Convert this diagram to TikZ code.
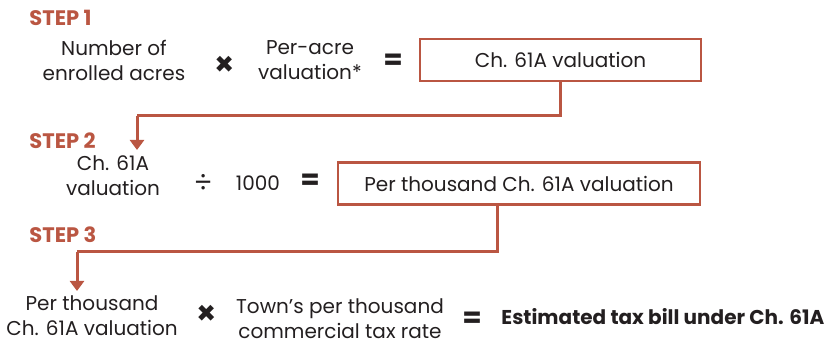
\documentclass[tikz,border=0pt]{standalone}
\usepackage{fontspec}
\setmainfont{Poppins}
\usetikzlibrary{positioning,arrows.meta}
\definecolor{stepred}{RGB}{186,86,66}
\definecolor{inkgray}{RGB}{35,31,32}

\begin{document}
\begin{tikzpicture}[x=0.5pt, y=-0.5pt, -{Triangle[width=7pt,length=5pt]}, line width=1.5pt, stepred, text=inkgray,
	steplabel/.style={anchor=west, inner sep=0, text=stepred, font=\fontsize{10.5}{12}\selectfont\bfseries},
	term/.style={align=center, inner sep=0, font=\fontsize{10}{12.5}\selectfont},
	op/.style={inner sep=0, font=\fontsize{14}{14}\selectfont\bfseries},
	result/.style={draw, line width=1.3pt, fill=white, inner sep=0, minimum height=21pt, font=\fontsize{10}{12}\selectfont}]
	\useasboundingbox (0,0) rectangle (827,340);
	% step 1
	\node[steplabel] (s1) at (28,18) {STEP 1};
	\node[term] (acres) at (114,60) {Number of\\enrolled acres};
	\node[op, font=\fontsize{16}{16}\selectfont\bfseries] (times1) at (225,66) {×};
	\node[term] (peracre) at (310,60) {Per-acre\\valuation*};
	\node[op] (eq1) at (393,62) {=};
	\node[result, minimum width=140.5pt] (val) at (560.5,60) {Ch. 61A valuation};
	% step 2
	\node[steplabel] (s2) at (28,141) {STEP 2};
	\node[term] (val2) at (113,176) {Ch. 61A\\valuation};
	\node[op, font=\fontsize{14}{14}\selectfont] (div) at (203,183) {÷};
	\node[term] (thou) at (258,183) {1000};
	\node[op] (eq2) at (310,182) {=};
	\node[result, minimum width=181pt] (perthou) at (519,183.5) {Per thousand Ch. 61A valuation};
	% step 3
	\node[steplabel] (s3) at (28,235) {STEP 3};
	\node[term] (perthou2) at (92,316) {Per thousand\\Ch. 61A valuation};
	\node[op, font=\fontsize{16}{16}\selectfont\bfseries] (times2) at (207,315) {×};
	\node[term] (rate) at (340,319) {Town’s per thousand\\commercial tax rate};
	\node[op] (eq3) at (472,320) {=};
	\node[anchor=west, inner sep=0, font=\fontsize{10}{12}\selectfont\bfseries] (bill) at (500,317) {Estimated tax bill under Ch. 61A};
	% connectors
	\coordinate (bend1) at (137,116);
	\coordinate (tip1) at (137,150);
	\draw[-] (val.south) |- (bend1);
	\draw (bend1) -- (tip1);
	\coordinate (bend2) at (77,252);
	\coordinate (tip2) at (77,291);
	\draw[-] ([xshift=-11pt]perthou.south) |- (bend2);
	\draw (bend2) -- (tip2);
\end{tikzpicture}
\end{document}
